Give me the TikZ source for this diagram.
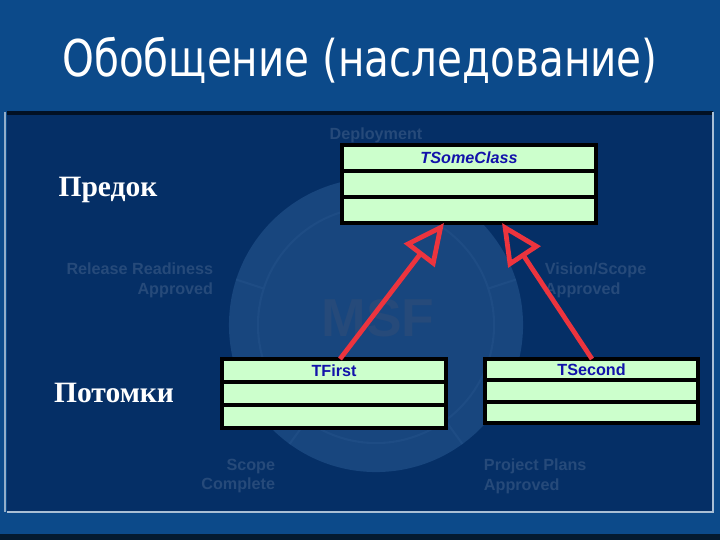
\documentclass[tikz,border=0pt]{standalone}
\usepackage{fontspec}
\newfontfamily\titlefont{DejaVu Sans}
\newfontfamily\labelfont{Liberation Serif}
\newfontfamily\umlfont{Liberation Sans}
\usetikzlibrary{positioning, arrows.meta, calc}
\definecolor{slideblue}{RGB}{12,74,138}
\definecolor{slidenavy}{RGB}{5,47,102}
\definecolor{msfdisk}{RGB}{24,70,126}
\definecolor{msfring}{RGB}{30,76,132}
\definecolor{msftext}{RGB}{38,74,122}
\definecolor{umlgreen}{RGB}{204,255,204}
\definecolor{umlblue}{RGB}{18,18,170}
\definecolor{umlred}{RGB}{236,52,62}
\tikzset{
  part/.style={draw=black, line width=2.8pt, fill=umlgreen, inner sep=0pt, outer sep=0pt,
    font=\umlfont\bfseries\fontsize{11.5}{12}\selectfont, text=umlblue},
  milestone/.style={font=\umlfont\bfseries\fontsize{11.5}{14}\selectfont, text=msftext},
  inherit/.style={umlred, line width=3.4pt, -{Triangle[open, length=29pt, width=27pt]}}
}

\begin{document}
\begin{tikzpicture}[x=0.025cm, y=-0.025cm]
  \useasboundingbox (0,0) rectangle (720,540);
  % fond du slide
  \fill[slideblue] (0,0) rectangle (720,540);
  \fill[black!65!slideblue] (0,534) rectangle (720,540);
  \fill[slidenavy] (7,112) rectangle (713,512);
  \draw[black!65!slidenavy, line width=3pt] (7,113) -- (713,113);
  \draw[white!55!slideblue, line width=1.5pt] (5,112) -- (5,512);
  \draw[white!65!slideblue, line width=2pt] (7,512) -- (713,512) -- (713,112);
  \node[font=\titlefont\fontsize{36}{40}\selectfont, text=white] (title) at (360,60)
    {\scalebox{0.8}[1]{Обобщение (наследование)}};

  % filigrane MSF
  \fill[msfdisk] (376,325) circle [radius=3.675cm];
  \draw[msfring, line width=1.5pt] (376,325) circle [radius=2.95cm];
  \foreach \a in {18, 90, 162, 234, 306}
    \draw[msfring, line width=1.5pt] (376,325) ++(\a:2.95cm) -- ++(\a:0.725cm);
  \node[font=\umlfont\bfseries\fontsize{38}{40}\selectfont, text=msftext] (msf) at (378,318) {MSF};
  \node[milestone] (deploy) at (376,135) {Deployment};
  \node[milestone, align=right, anchor=east] (release) at (218,280) {Release Readiness\\Approved};
  \node[milestone, align=left, anchor=west] (vision) at (540,280) {Vision/Scope\\Approved};
  \node[milestone, align=right, anchor=east] (scope) at (280,476) {Scope\\Complete};
  \node[milestone, align=left, anchor=west] (plans) at (479,476) {Project Plans\\Approved};

  % classes
  \node[part, minimum width=6.35cm, minimum height=0.65cm, font=\umlfont\bfseries\itshape\fontsize{11.5}{12}\selectfont]
    (some) at (469,158) {TSomeClass};
  \node[part, minimum width=6.35cm, minimum height=0.65cm, below=0pt of some] (someB) {};
  \node[part, minimum width=6.35cm, minimum height=0.65cm, below=0pt of someB] (someC) {};

  \node[part, minimum width=5.6cm, minimum height=0.575cm] (first) at (334,370.5) {TFirst};
  \node[part, minimum width=5.6cm, minimum height=0.575cm, below=0pt of first] (firstB) {};
  \node[part, minimum width=5.6cm, minimum height=0.575cm, below=0pt of firstB] (firstC) {};

  \node[part, minimum width=5.325cm, minimum height=0.535cm] (second) at (591.5,369.7) {TSecond};
  \node[part, minimum width=5.325cm, minimum height=0.535cm, below=0pt of second] (secondB) {};
  \node[part, minimum width=5.325cm, minimum height=0.535cm, below=0pt of secondB] (secondC) {};

  % heritage
  \draw[inherit] ($(first.north)+(6,0)$) -- ($(someC.south)+(-25,0)$);
  \draw[inherit] ($(second.north)+(0.5,0)$) -- ($(someC.south)+(33,0)$);

  % legendes
  \node[font=\labelfont\bfseries\fontsize{21}{24}\selectfont, text=white] (parent) at (108,190) {Предок};
  \node[font=\labelfont\bfseries\fontsize{21}{24}\selectfont, text=white] (children) at (114,393) {Потомки};
\end{tikzpicture}
\end{document}
